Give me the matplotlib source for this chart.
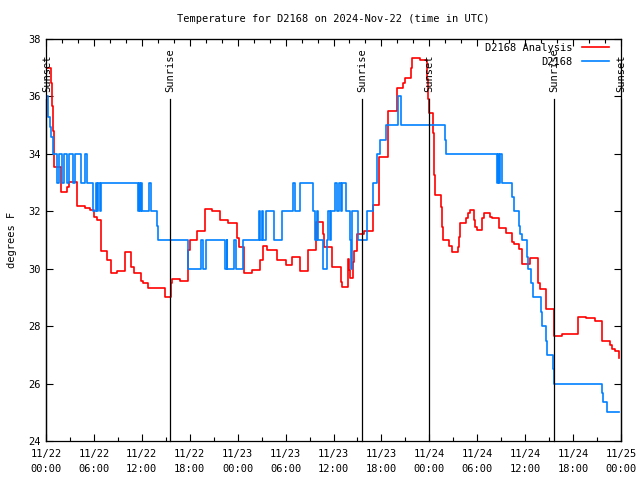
import matplotlib.pyplot as plt
from matplotlib.ticker import MultipleLocator
from matplotlib.transforms import blended_transform_factory

# hours since 11/22 00:00 UTC, step values (deg F)
analysis_h = [0.0, 0.59, 0.75, 0.91, 1.0, 1.84, 2.67, 2.9, 3.84, 4.85, 5.5, 6.0, 6.42,
              6.92, 7.68, 8.1, 8.85, 9.93, 10.68, 11.02, 11.86, 12.11, 12.77, 14.86,
              15.61, 15.78, 16.75, 17.78, 18.0, 18.87, 19.87, 20.79, 21.83, 22.85,
              23.95, 24.13, 24.79, 25.8, 26.8, 27.21, 27.63, 28.88, 30.0, 30.8, 31.8,
              32.85, 33.81, 34.72, 34.85, 35.81, 36.9, 37.02, 37.86, 37.95, 38.07,
              38.48, 38.62, 38.9, 39.86, 40.9, 40.99, 41.74, 42.86, 43.91, 44.74, 45.0,
              45.67, 45.83, 46.83, 47.67, 47.83, 47.96, 48.5, 48.6, 48.76, 49.5, 49.6,
              49.75, 50.5, 50.88, 51.6, 51.7, 51.88, 52.6, 52.85, 53.05, 53.6, 53.75,
              53.97, 54.65, 54.8, 55.6, 55.8, 56.72, 57.57, 58.4, 58.57, 59.25, 59.6,
              60.6, 61.56, 61.65, 61.86, 62.6, 63.6, 63.65, 64.57, 66.65, 67.6, 68.75,
              69.66, 70.6, 70.9, 71.29, 71.71, 71.75]
analysis_f = [37.0, 36.46, 35.65, 34.8, 33.55, 32.68, 32.86, 33.03, 32.18, 32.1, 32.05, 31.8, 31.7,
              30.6, 30.3, 29.84, 29.92, 30.58, 30.07, 29.84, 29.58, 29.49, 29.32, 29.03,
              29.5, 29.63, 29.56, 30.65, 31.0, 31.3, 32.07, 32.02, 31.7, 31.6,
              31.06, 30.75, 29.86, 29.96, 30.3, 30.79, 30.65, 30.3, 30.13, 30.42, 29.92,
              30.65, 31.64, 31.2, 30.77, 30.07, 29.55, 29.35, 30.33, 29.96, 29.67,
              30.25, 30.6, 31.2, 31.32, 31.99, 32.22, 33.9, 35.49, 36.3, 36.46, 36.65,
              36.98, 37.33, 37.27, 36.6, 35.9, 35.41, 34.72, 33.26, 32.56, 32.16, 31.46,
              31.0, 30.79, 30.57, 30.77, 31.12, 31.6, 31.76, 31.93, 32.05, 31.7, 31.46,
              31.35, 31.75, 31.95, 31.81, 31.78, 31.41, 31.23, 30.94, 30.86, 30.68, 30.17,
              30.36, 29.84, 29.49, 29.28, 28.59, 28.12, 27.66, 27.72, 28.31, 28.27, 28.19,
              27.48, 27.34, 27.2, 27.13, 26.88, 26.88]

obs_h = [0.0, 0.19, 0.31, 0.5, 0.66, 0.91, 1.34, 1.67, 2.04, 2.25, 2.59, 2.92, 3.34, 3.67,
         4.35, 4.92, 5.17, 5.93, 6.2, 6.35, 6.55, 6.7, 6.93, 11.52, 11.65, 11.75, 11.85,
         12.0, 12.94, 13.19, 13.94, 14.06, 17.74, 19.37, 19.6, 20.03, 22.45, 22.63, 22.7,
         23.54, 23.79, 24.7, 26.63, 26.85, 27.0, 27.2, 27.55, 28.59, 29.55, 30.89, 31.14,
         31.8, 33.39, 33.72, 33.9, 34.1, 34.72, 35.15, 35.35, 35.6, 35.7, 36.19, 36.5,
         36.65, 36.9, 37.05, 37.57, 38.07, 38.2, 38.32, 39.1, 40.15, 40.99, 41.48, 41.8,
         42.53, 44.1, 44.4, 49.9, 50.05, 56.43, 56.6, 56.7, 56.8, 57.06, 58.4, 58.65,
         59.23, 59.4, 59.56, 60.19, 60.4, 60.73, 61.02, 61.95, 62.07, 62.6, 62.7, 63.52,
         63.65, 69.62, 69.8, 70.2, 71.75]
obs_f = [36.0, 35.9, 35.3, 34.95, 34.6, 34.0, 33, 34, 33, 34, 33, 34, 33, 34,
         33, 34, 33, 32, 33, 32, 33, 32, 33, 32, 33, 32, 33,
         32, 33, 32, 31.5, 31, 30, 31, 30, 31, 30, 31, 30,
         31, 30, 31, 32, 31, 32, 31, 32, 31, 32, 33, 32,
         33, 32, 31, 32, 31, 30, 31, 32, 31, 32, 33, 32,
         33, 32, 33, 32, 31, 30, 32, 31, 32, 33, 34, 34.5,
         35, 36, 35, 34.5, 34, 33, 34, 33, 34, 33, 32.5, 32,
         31.5, 31.2, 31, 30.4, 30, 29.5, 29, 28.5, 28, 27.5, 27, 26.5,
         26, 25.66, 25.37, 25.0, 25.0]

event_names = ['Sunset', 'Sunrise', 'Sunrise', 'Sunset', 'Sunrise', 'Sunset']
event_h = [0.02, 15.58, 39.62, 48.0, 63.65, 72.0]

tick_h = list(range(0, 73, 6))
tick_labels = ['11/22\n00:00', '11/22\n06:00', '11/22\n12:00', '11/22\n18:00',
               '11/23\n00:00', '11/23\n06:00', '11/23\n12:00', '11/23\n18:00',
               '11/24\n00:00', '11/24\n06:00', '11/24\n12:00', '11/24\n18:00',
               '11/25\n00:00']
y_ticks = list(range(24, 39, 2))

plt.rcParams['font.family'] = 'DejaVu Sans Mono'
plt.rcParams['font.size'] = 7.5

fig = plt.figure(figsize=(6.4, 4.8), dpi=100)
ax = fig.add_axes([46 / 640, 39 / 480, 575 / 640, 402 / 480])

ax.step(analysis_h, analysis_f, where='post', color='#ff0000', lw=1.2, label='D2168 Analysis')
ax.step(obs_h, obs_f, where='post', color='#0080ff', lw=1.2, label='D2168')

trans = blended_transform_factory(ax.transData, ax.transAxes)
for name, h in zip(event_names, event_h):
    ax.plot([h, h], [0, 0.851], color='black', lw=0.9, transform=trans, zorder=5, clip_on=False)
    ax.text(max(h, 0.15), 0.868, name, rotation=90, ha='center', va='bottom', transform=trans)

ax.set_xlim(0, 72)
ax.set_ylim(24, 38)
ax.set_xticks(tick_h, tick_labels)
ax.xaxis.set_minor_locator(MultipleLocator(3))
ax.set_yticks(y_ticks)
ax.tick_params(direction='in', length=5, width=0.8, right=True, pad=4)
ax.tick_params(which='minor', direction='in', length=3, width=0.8)
ax.tick_params(axis='x', pad=6)
for lbl in ax.get_xticklabels():
    lbl.set_linespacing(1.55)

sec = ax.secondary_xaxis('top')
sec.set_xticks(tick_h)
sec.xaxis.set_minor_locator(MultipleLocator(2))
sec.tick_params(direction='in', length=5, width=0.8, labeltop=False)
sec.tick_params(which='minor', direction='in', length=3, width=0.8)

for s in ax.spines.values():
    s.set_linewidth(0.9)

ax.set_ylabel('degrees F', labelpad=8)
fig.text(333.5 / 640, 1 - 19 / 480, 'Temperature for D2168 on 2024-Nov-22 (time in UTC)',
         ha='center', va='center')

ax.legend(loc='upper right', bbox_to_anchor=(1 - 12 / 575, 1 - 4 / 402),
          markerfirst=False, frameon=False, handlelength=2.6,
          handletextpad=0.9, labelspacing=0.35, borderaxespad=0, borderpad=0)

fig.savefig('out.png', dpi=100)
